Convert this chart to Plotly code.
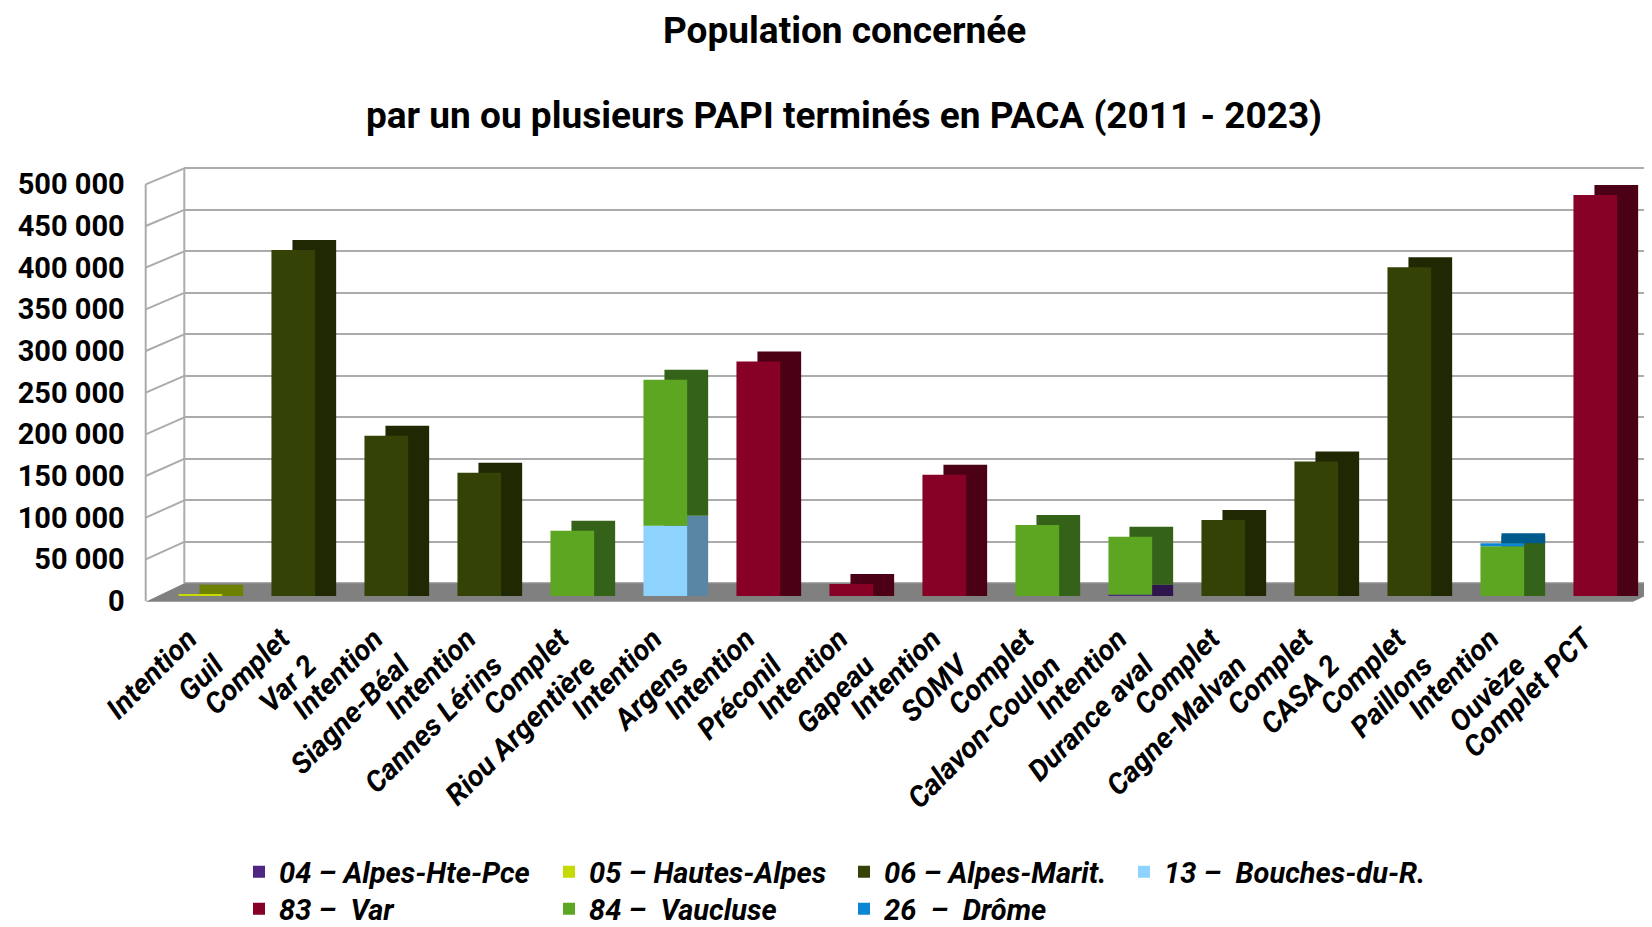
import plotly.graph_objects as go

# The page shows the figure 8 px from the top-left corner of the window (body margin),
# so the figure is made 8 px smaller and every screen position below is shifted by OFF.
SCREEN_W, SCREEN_H, OFF = 1652, 927, 8
W, H = SCREEN_W - OFF, SCREEN_H - OFF

# ---------------- data ----------------
categories = [
    "Intention<br>Guil", "Complet<br>Var 2", "Intention<br>Siagne-Béal",
    "Intention<br>Cannes Lérins", "Complet<br>Riou Argentière", "Intention<br>Argens",
    "Intention<br>Préconil", "Intention<br>Gapeau", "Intention<br>SOMV",
    "Complet<br>Calavon-Coulon", "Intention<br>Durance aval", "Complet<br>Cagne-Malvan",
    "Complet<br>CASA 2", "Complet<br>Paillons", "Intention<br>Ouvèze", "Complet PCT",
]
y_ticks = [0, 50000, 100000, 150000, 200000, 250000, 300000, 350000, 400000, 450000, 500000]

alpes_hte_pce = [0, 0, 0, 0, 0, 0, 0, 0, 0, 0, 1500, 0, 0, 0, 0, 0]
hautes_alpes = [1500, 0, 0, 0, 0, 0, 0, 0, 0, 0, 0, 0, 0, 0, 0, 0]
bouches_du_r = [0, 0, 0, 0, 0, 84500, 0, 0, 0, 0, 0, 0, 0, 0, 0, 0]
alpes_marit = [0, 417000, 193000, 148500, 0, 0, 0, 0, 0, 0, 0, 91500, 162000, 396000, 0, 0]
var_83 = [0, 0, 0, 0, 0, 0, 282500, 14500, 146000, 0, 0, 0, 0, 0, 0, 483000]
vaucluse = [0, 0, 0, 0, 78500, 176000, 0, 0, 0, 85500, 70000, 0, 0, 0, 60000, 0]
drome = [0, 0, 0, 0, 0, 0, 0, 0, 0, 0, 0, 0, 0, 0, 3500, 0]

NBSP = "\u00a0"
# (name, values, front colour, dark colour, legend column, legend row) in stacking order
series = [
    ("04 – Alpes-Hte-Pce", alpes_hte_pce, "#4F2683", "#2E154E", 0, 0),
    ("05 – Hautes-Alpes", hautes_alpes, "#C4DA00", "#6E8000", 1, 0),
    ("13 –" + NBSP + " Bouches-du-R.", bouches_du_r, "#8DD3FD", "#5A86A6", 3, 0),
    ("06 – Alpes-Marit.", alpes_marit, "#344205", "#1F2802", 2, 0),
    ("83 –" + NBSP + " Var", var_83, "#870026", "#4C0015", 0, 1),
    ("84 –" + NBSP + " Vaucluse", vaucluse, "#5DA621", "#356219", 1, 1),
    ("26" + NBSP + " –" + NBSP + " Drôme", drome, "#0A86D2", "#005A8C", 2, 1),
]

# ---------------- geometry (screen pixels) ----------------
X_FRONT, X_BACK, X_RIGHT = 145.7, 184.3, 1652.0
CAT0, CAT_STEP = 200.3, 93.0
DOM_TOP, DOM_BOT = 150.0, 615.0
PPU = 415.0 / 500000          # pixels per unit (bars and back wall)
PPU_FRONT = 416.7 / 500000    # front axis
ZERO_BACK, ZERO_BAR, ZERO_FRONT = 583.3, 596.0, 601.0
DX_PX, DY_PX, FACE_PX = 21.0, 10.0, 43.7
LABEL_SHIFT = 12.0            # category labels sit a little left of the bar centres

face_w = FACE_PX / CAT_STEP
dx = DX_PX / CAT_STEP
depth = DY_PX / PPU


def yrange(zero, ppu):
    return [(zero - DOM_BOT) / ppu, (zero - DOM_TOP) / ppu]


def px_cat(px):
    return (px - CAT0) / CAT_STEP


def py_bar(py):
    return (ZERO_BAR - py) / PPU


def px_paper(px):
    return (px - OFF) / W


def py_paper(py):
    return 1 - (py - OFF) / H


ydom = [py_paper(DOM_BOT), py_paper(DOM_TOP)]

fig = go.Figure()

# empty trace so that the back-wall grid subplot is drawn
fig.add_trace(go.Scatter(x=[None], y=[None], xaxis="x", yaxis="y", showlegend=False, hoverinfo="skip"))

# cumulative bases
bases = []
cum = [0] * len(categories)
for s in series:
    bases.append(list(cum))
    cum = [c + v for c, v in zip(cum, s[1])]

# back (side + top) faces
for (name, vals, col, dark, _, _), base in zip(series, bases):
    xs, ys, bs = [], [], []
    for i, (v, b) in enumerate(zip(vals, base)):
        if v > 0:
            xs.append(i)
            if b > 0:
                start = min(b + depth, b + v)
            else:
                start = 0
            bs.append(start)
            ys.append(b + v + depth - start)
    fig.add_trace(go.Bar(
        x=xs, y=ys, base=bs, width=face_w, offset=-face_w / 2 + dx,
        marker=dict(color=dark, line=dict(width=0)),
        xaxis="x2", yaxis="y2", showlegend=False, hoverinfo="skip",
    ))

# front faces
for k, ((name, vals, col, dark, c, r), base) in enumerate(zip(series, bases)):
    xs = [i for i, v in enumerate(vals) if v > 0]
    ys = [vals[i] for i in xs]
    bs = [base[i] for i in xs]
    fig.add_trace(go.Bar(
        x=xs, y=ys, base=bs, width=face_w, offset=-face_w / 2, name=name,
        marker=dict(color=col, line=dict(width=0)),
        xaxis="x2", yaxis="y2", showlegend=True,
        legend="legend" if k == 0 else f"legend{k + 1}",
    ))

# empty trace so that the front value axis is drawn
fig.add_trace(go.Scatter(x=[None], y=[None], xaxis="x2", yaxis="y3", showlegend=False, hoverinfo="skip"))

tick_text = [f"{v:,}".replace(",", " ") for v in y_ticks]
grid_col = "#ABABAB"
label_pos = [i - LABEL_SHIFT / CAT_STEP for i in range(len(categories))]

layout = dict(
    width=W, height=H,
    margin=dict(l=0, r=0, t=0, b=0, autoexpand=False),
    paper_bgcolor="white", plot_bgcolor="rgba(0,0,0,0)",
    barmode="overlay",
    font=dict(family="Roboto", color="black"),
    xaxis=dict(domain=[px_paper(X_BACK), 1], range=[0, 1], visible=False, fixedrange=True),
    yaxis=dict(domain=ydom, range=yrange(ZERO_BACK, PPU), anchor="x",
               tickvals=y_ticks, showticklabels=False, showgrid=True,
               gridcolor=grid_col, gridwidth=2, zeroline=False, ticks=""),
    xaxis2=dict(domain=[px_paper(X_FRONT), 1], range=[px_cat(X_FRONT), px_cat(X_RIGHT)],
                anchor="y2", tickmode="array", tickvals=label_pos,
                ticktext=categories, tickangle=-45, showgrid=False, zeroline=False,
                showline=False, ticks="", automargin=False,
                tickfont=dict(family="Roboto", size=29, weight="bold", style="italic", color="black")),
    yaxis2=dict(domain=ydom, range=yrange(ZERO_BAR, PPU), anchor="x2", visible=False),
    yaxis3=dict(domain=ydom, range=yrange(ZERO_FRONT, PPU_FRONT), anchor="x2",
                overlaying="y2", side="left", tickmode="array", tickvals=y_ticks,
                ticktext=tick_text, showgrid=False, zeroline=False, showline=False,
                ticks="", ticklabelstandoff=20, automargin=False,
                tickfont=dict(family="Roboto", size=29, weight="bold", color="black")),
)

# legends (one per entry, placed like the reference)
col_text_x = [280, 590, 885, 1165]
row_y = [872, 909]
for k, (name, vals, col, dark, c, r) in enumerate(series):
    key = "legend" if k == 0 else f"legend{k + 1}"
    layout[key] = dict(
        x=px_paper(col_text_x[c] - 41), y=py_paper(row_y[r]), xanchor="left", yanchor="middle",
        orientation="h", bgcolor="rgba(0,0,0,0)", borderwidth=0,
        font=dict(family="Roboto", size=29, weight="bold", style="italic", color="black"),
    )

fig.update_layout(**layout)

# title
title_font = dict(family="Roboto", size=37, weight="bold", color="black")
fig.add_annotation(text="Population concernée", x=px_paper(844), y=py_paper(31),
                   xref="paper", yref="paper", showarrow=False,
                   xanchor="center", yanchor="middle", font=title_font)
fig.add_annotation(text="par un ou plusieurs PAPI terminés en PACA (2011 - 2023)",
                   x=px_paper(844), y=py_paper(116), xref="paper", yref="paper",
                   showarrow=False, xanchor="center", yanchor="middle", font=title_font)

# floor of the 3D frame
slope = (ZERO_FRONT + 0.7 - ZERO_BACK) / (X_BACK - X_FRONT)
floor_pts = [
    (X_FRONT, ZERO_FRONT + 0.7), (X_BACK, ZERO_BACK), (X_RIGHT, ZERO_BACK),
    (X_RIGHT, ZERO_FRONT + 0.7 - (X_RIGHT - 1633) * slope), (1633, ZERO_FRONT + 0.7),
]
path = "M " + " L ".join(f"{px_cat(x):.4f},{py_bar(y):.1f}" for x, y in floor_pts) + " Z"
fig.add_shape(type="path", path=path, xref="x2", yref="y2", layer="between",
              fillcolor="#808080", line=dict(width=0))

# left frame: front edge, back edge, connectors at each tick
fy = lambda v: ZERO_FRONT - v * PPU_FRONT
by = lambda v: ZERO_BACK - v * PPU
frame_line = dict(color=grid_col, width=2)
fig.add_shape(type="line", xref="paper", yref="paper", x0=px_paper(X_FRONT), x1=px_paper(X_FRONT),
              y0=py_paper(fy(0)), y1=py_paper(fy(y_ticks[-1])), line=frame_line)
fig.add_shape(type="line", xref="paper", yref="paper", x0=px_paper(X_BACK), x1=px_paper(X_BACK),
              y0=py_paper(by(0)), y1=py_paper(by(y_ticks[-1])), line=frame_line)
for v in y_ticks[1:]:
    fig.add_shape(type="line", xref="paper", yref="paper", x0=px_paper(X_FRONT), x1=px_paper(X_BACK),
                  y0=py_paper(fy(v)), y1=py_paper(by(v)), line=frame_line)

fig.write_html("out.html")
